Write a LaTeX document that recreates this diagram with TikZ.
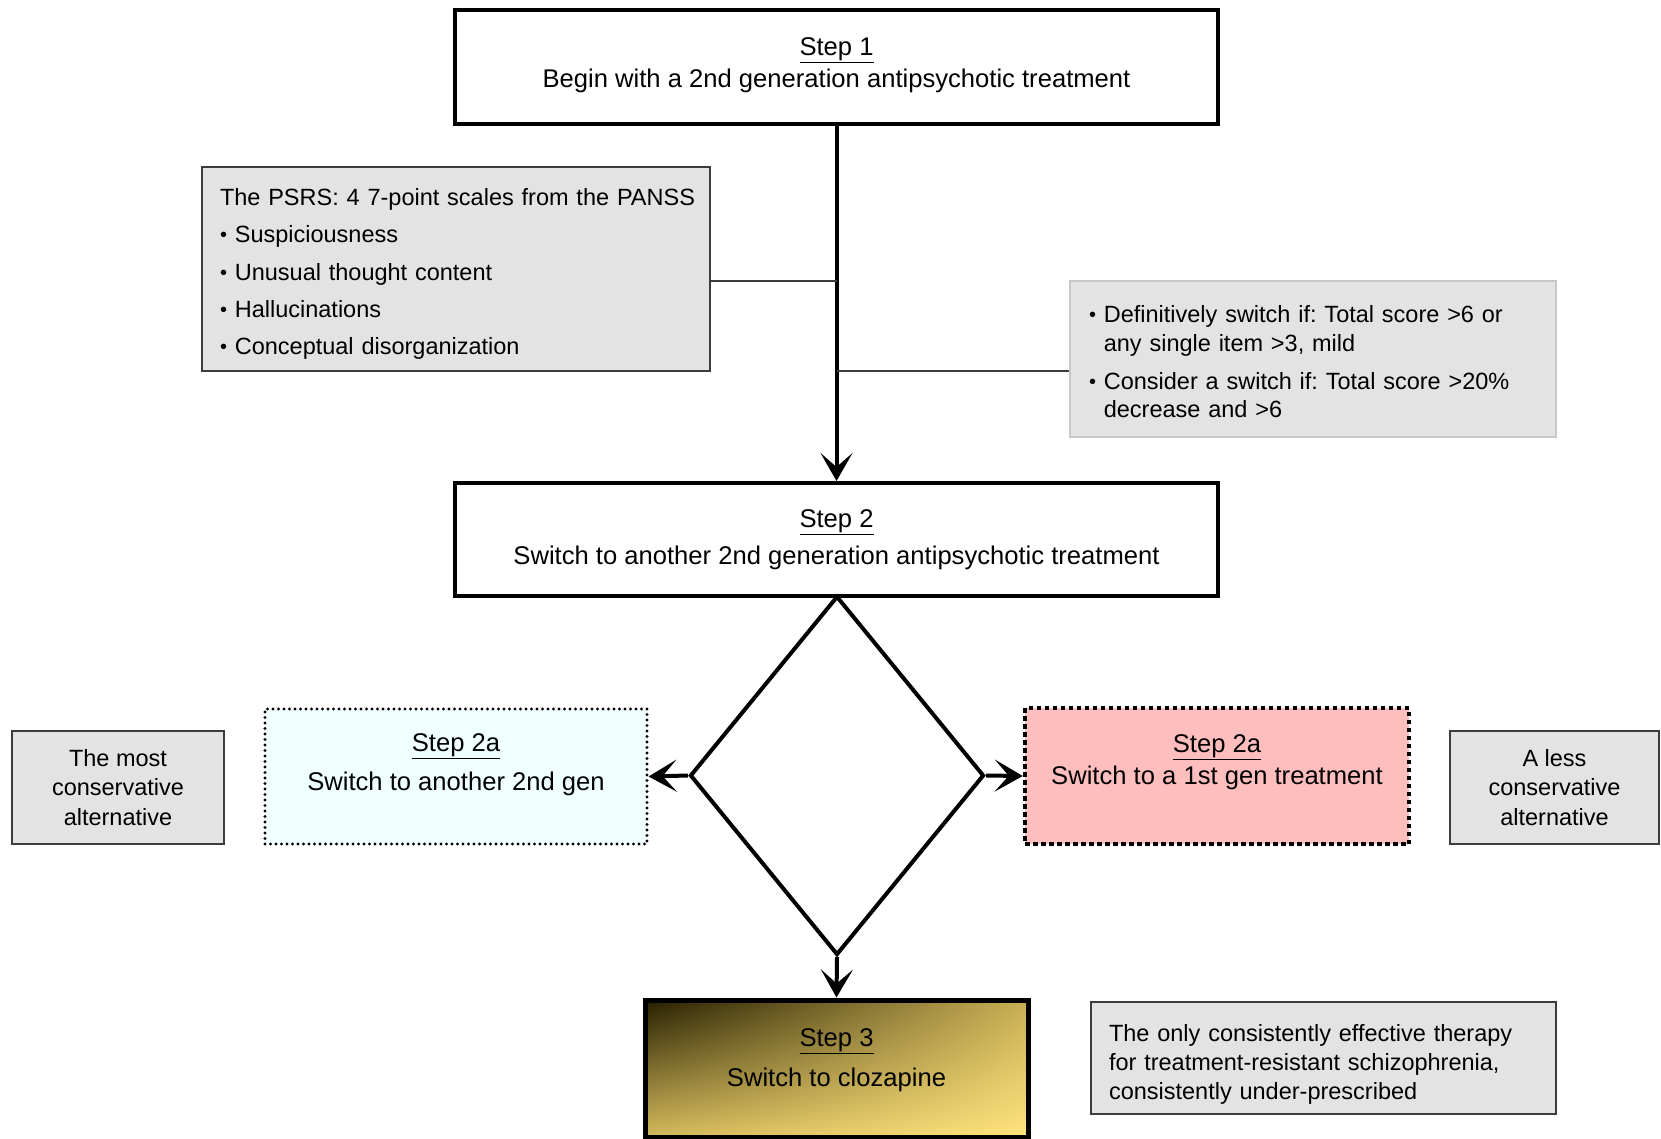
\documentclass[tikz,border=0pt]{standalone}
\usepackage{fontspec}
\setmainfont{Liberation Sans}
\usetikzlibrary{positioning, shapes.geometric, arrows.meta, shadings}
\frenchspacing

\definecolor{notegrey}{RGB}{227,227,227}
\definecolor{noteedge}{RGB}{60,60,60}
\definecolor{paleedge}{RGB}{200,200,200}
\definecolor{azurefill}{RGB}{240,255,255}
\definecolor{pinkfill}{RGB}{255,190,190}
\definecolor{golddark}{RGB}{38,30,0}
\definecolor{goldtop}{RGB}{200,175,85}
\definecolor{goldleft}{RGB}{212,186,92}
\definecolor{goldlight}{RGB}{255,228,125}
\newcommand{\notebullet}{{\fontsize{20}{20}\selectfont\raisebox{1pt}{\textbullet}}\ }

\begin{document}
\begin{tikzpicture}[x=1pt, y=-1pt,
  stepbox/.style={rectangle, draw, line width=4pt, align=center, inner sep=0pt},
  notebox/.style={rectangle, draw=noteedge, fill=notegrey, line width=1.5pt, inner sep=0pt,
    font=\fontsize{23.5}{28.6}\selectfont},
  flow/.style={-{Stealth[length=28pt, width=32pt, inset=14pt]}, line width=4pt}]
\useasboundingbox (0,0) rectangle (1661,1138);

% main steps
\node[stepbox, minimum width=763pt, minimum height=114pt, text depth=8pt,
  font=\fontsize{25.6}{32}\selectfont] (step1) at (836.5,67)
  {\underline{Step 1}\\Begin with a 2nd generation antipsychotic treatment};
\node[stepbox, minimum width=763pt, minimum height=113pt,
  font=\fontsize{25.6}{37}\selectfont] (step2) at (836.5,539.5)
  {\underline{Step 2}\\Switch to another 2nd generation antipsychotic treatment};
\node[diamond, draw, line width=4pt, minimum width=294pt, minimum height=359pt,
  inner sep=0pt] (choice) at (837,775.5) {};
\node[stepbox, fill=azurefill, line width=3.2pt, line cap=round, dash pattern=on 0pt off 5.5pt,
  minimum width=382pt, minimum height=135pt, text depth=29pt,
  font=\fontsize{25.6}{39}\selectfont] (alt2nd) at (456,776.5)
  {\underline{Step 2a}\\Switch to another 2nd gen};
\node[stepbox, fill=pinkfill, line width=4.5pt, dash pattern=on 4.5pt off 3.5pt,
  minimum width=384pt, minimum height=136pt, text depth=33pt,
  font=\fontsize{25.6}{32}\selectfont] (alt1st) at (1217,776)
  {\underline{Step 2a}\\Switch to a 1st gen treatment};
\node[stepbox, line width=5pt, upper left=golddark, upper right=goldtop,
  lower left=goldleft, lower right=goldlight,
  minimum width=383pt, minimum height=137pt, text depth=22pt,
  font=\fontsize{25.6}{40}\selectfont] (step3) at (836.5,1068.5)
  {\underline{Step 3}\\Switch to clozapine};

% side notes
\node[notebox, minimum width=508pt, minimum height=204pt, inner xsep=18pt,
  text width=472pt, text height=27pt, align=left, font=\fontsize{23.5}{37.3}\selectfont]
  (psrs) at (456,269)
  {\mbox{The PSRS: 4 7-point scales from the PANSS}\\
   \notebullet Suspiciousness\\
   \notebullet Unusual thought content\\
   \notebullet Hallucinations\\
   \notebullet Conceptual disorganization};
\node[notebox, draw=paleedge, minimum width=486pt, minimum height=156pt, inner xsep=19pt,
  text width=448pt, text height=23pt, align=left] (rules) at (1313,359)
  {\notebullet Definitively switch if: Total score >6 or\\
   \phantom{\notebullet}any single item >3, mild\\[9.4pt]
   \notebullet Consider a switch if: Total score >20\%\\
   \phantom{\notebullet}decrease and >6};
\node[notebox, minimum width=212pt, minimum height=113pt, align=center,
  font=\fontsize{23.5}{29.5}\selectfont] (most) at (118,787.5)
  {The most\\conservative\\alternative};
\node[notebox, minimum width=209pt, minimum height=113pt, align=center,
  font=\fontsize{23.5}{29.5}\selectfont] (less) at (1554.5,787.5)
  {A less\\conservative\\alternative};
\node[notebox, minimum width=465pt, minimum height=112pt, inner xsep=18pt,
  text width=429pt, text height=30pt, align=left] (only) at (1323.5,1058)
  {The only consistently effective therapy\\
   for treatment-resistant schizophrenia,\\
   consistently under-prescribed};

% connectors
\coordinate (trunkA) at (837,281);
\coordinate (trunkB) at (837,371);
\draw[flow] (step1) -- (step2);
\draw[line width=1.5pt, noteedge] (psrs.east |- trunkA) -- (trunkA);
\draw[line width=1.5pt, noteedge] (trunkB) -- (rules.west |- trunkB);
\draw[flow] (choice.west) -- (alt2nd.east);
\draw[flow] (choice.east) -- (alt1st.west);
\draw[flow] (choice.south) -- (step3.north);
\end{tikzpicture}
\end{document}
